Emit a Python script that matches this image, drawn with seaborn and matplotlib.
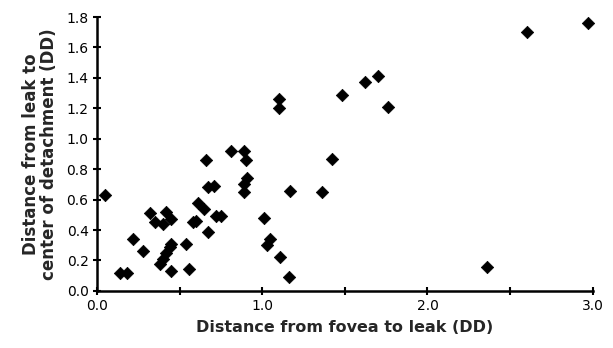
import numpy as np
import pandas as pd
import matplotlib
matplotlib.use("Agg")
import matplotlib.pyplot as plt
import seaborn as sns

# distance fovea -> leak (DD)
fovea_leak = [0.05, 0.14, 0.18, 0.22, 0.28, 0.32, 0.35, 0.40, 0.42, 0.45,
              0.45, 0.44, 0.42, 0.40, 0.38, 0.45, 0.54, 0.56, 0.58, 0.60,
              0.61, 0.65, 0.67, 0.66, 0.67, 0.71, 0.72, 0.75, 0.81, 0.89,
              0.90, 0.91, 0.89, 0.89, 1.01, 1.05, 1.03, 1.11, 1.16, 1.17,
              1.10, 1.10, 1.36, 1.42, 1.48, 1.62, 1.70, 1.76, 2.36, 2.60,
              2.97]
# distance leak -> center of detachment (DD)
leak_center = [0.63, 0.12, 0.12, 0.34, 0.26, 0.51, 0.45, 0.44, 0.52, 0.47,
               0.31, 0.29, 0.25, 0.21, 0.18, 0.13, 0.31, 0.145, 0.45, 0.46,
               0.58, 0.54, 0.39, 0.86, 0.68, 0.69, 0.49, 0.49, 0.92, 0.92,
               0.86, 0.74, 0.70, 0.65, 0.48, 0.34, 0.30, 0.22, 0.09, 0.66,
               1.26, 1.20, 0.65, 0.87, 1.29, 1.37, 1.41, 1.21, 0.16, 1.70,
               1.76]

df = pd.DataFrame({"x": fovea_leak, "y": leak_center})

sns.set_style("ticks")
plt.rcParams['font.family'] = ['DejaVu Sans']

fig = plt.figure(figsize=(6.13, 3.48), dpi=100)
ax = fig.add_axes([0.158, 0.164, 0.809, 0.787])

sns.scatterplot(data=df, x="x", y="y", marker="D", s=40, color="black",
                edgecolor="black", linewidth=0.5, ax=ax, clip_on=False)

ax.set_xlim(0, 3.0)
ax.set_ylim(0, 1.8)
ax.set_xticks(np.arange(0, 3.01, 0.5))
ax.set_xticklabels(["0.0", "", "1.0", "", "2.0", "", "3.0"])
ax.set_yticks(np.arange(0, 1.81, 0.2))
ax.set_yticklabels([f"{v:.1f}" for v in np.arange(0, 1.81, 0.2)])

for side in ["top", "right"]:
    ax.spines[side].set_visible(False)
for side in ["left", "bottom"]:
    ax.spines[side].set_linewidth(1.8)
    ax.spines[side].set_color("black")

ax.tick_params(direction="inout", length=6, width=1.5, labelsize=10,
               colors="black", pad=3)

ax.set_xlabel("Distance from fovea to leak (DD)", fontsize=11.5,
              fontweight="bold", labelpad=5)
ax.set_ylabel("Distance from leak to\ncenter of detachment (DD)",
              fontsize=12, fontweight="bold", labelpad=6, linespacing=1.0)

fig.savefig("out.png", dpi=100)
